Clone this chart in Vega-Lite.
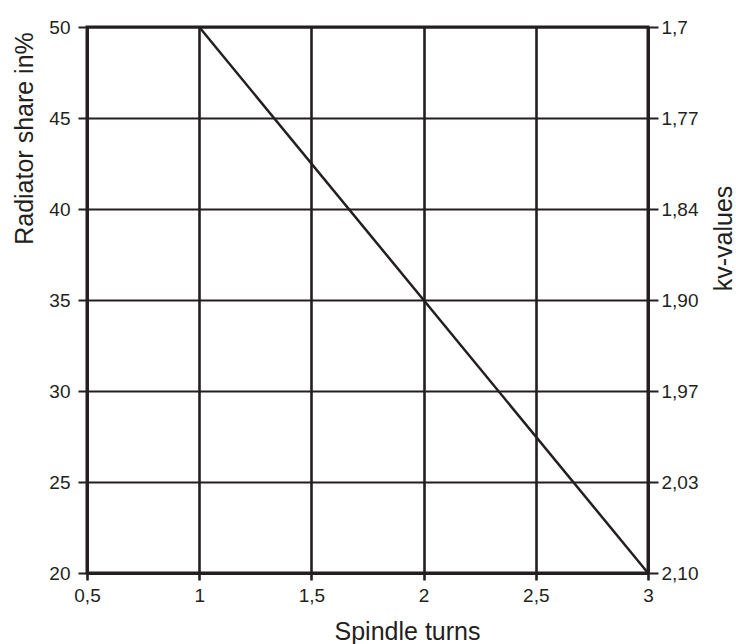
{
  "$schema": "https://vega.github.io/schema/vega-lite/v6.json",
  "width": 561,
  "height": 546,
  "autosize": {"type": "none"},
  "padding": {"left": 87, "top": 27, "right": 88, "bottom": 71},
  "background": "white",
  "config": {
    "font": "Liberation Sans",
    "view": {"stroke": "#231f20", "strokeWidth": 3},
    "axis": {
      "labelFont": "Liberation Sans",
      "titleFont": "Liberation Sans",
      "labelColor": "#231f20",
      "titleColor": "#231f20",
      "labelFontSize": 19,
      "titleFontSize": 25,
      "titleFontWeight": "normal",
      "tickColor": "#231f20",
      "domainColor": "#231f20",
      "gridColor": "#231f20",
      "gridOpacity": 1,
      "labelFlush": false,
      "labelOverlap": false
    }
  },
  "data": {
    "values": [
      {"turns": 1, "share": 50},
      {"turns": 3, "share": 20}
    ]
  },
  "layer": [
    {
      "mark": {"type": "line", "color": "#231f20", "strokeWidth": 2.5},
      "encoding": {
        "x": {
          "field": "turns",
          "type": "quantitative",
          "scale": {"domain": [0.5, 3], "nice": false, "zero": false},
          "axis": {
            "title": "Spindle turns",
            "values": [0.5, 1, 1.5, 2, 2.5, 3],
            "labelExpr": "replace(toString(datum.value), '.', ',')",
            "grid": true,
            "gridWidth": 2.6,
            "tickWidth": 2.6,
            "tickSize": 7,
            "labelPadding": 6,
            "domain": true,
            "domainWidth": 3,
            "titleX": 320,
            "titleY": 66,
            "titleAlign": "center",
            "titleBaseline": "alphabetic"
          }
        },
        "y": {
          "field": "share",
          "type": "quantitative",
          "scale": {"domain": [20, 50], "nice": false, "zero": false},
          "axis": {
            "title": "Radiator share in%",
            "orient": "left",
            "values": [20, 25, 30, 35, 40, 45, 50],
            "grid": true,
            "gridWidth": 2,
            "tickWidth": 2,
            "tickSize": 9,
            "labelPadding": 8,
            "domainWidth": 2.6,
            "titleAngle": 270,
            "titleX": -55,
            "titleY": 111,
            "titleAlign": "center",
            "titleBaseline": "alphabetic"
          }
        }
      }
    },
    {
      "mark": {"type": "line", "opacity": 0},
      "encoding": {
        "x": {"field": "turns", "type": "quantitative", "scale": {"domain": [0.5, 3], "nice": false, "zero": false}},
        "y": {
          "field": "share",
          "type": "quantitative",
          "scale": {"domain": [20, 50], "nice": false, "zero": false},
          "axis": {
            "title": "kv-values",
            "orient": "right",
            "values": [20, 25, 30, 35, 40, 45, 50],
            "labelExpr": "datum.value == 50 ? '1,7' : datum.value == 45 ? '1,77' : datum.value == 40 ? '1,84' : datum.value == 35 ? '1,90' : datum.value == 30 ? '1,97' : datum.value == 25 ? '2,03' : '2,10'",
            "grid": false,
            "tickWidth": 2,
            "tickSize": 10,
            "labelPadding": 3,
            "domainWidth": 2.6,
            "titleAngle": 270,
            "titleX": 83,
            "titleY": 211,
            "titleAlign": "center",
            "titleBaseline": "alphabetic"
          }
        }
      }
    }
  ],
  "resolve": {"scale": {"y": "independent"}}
}
